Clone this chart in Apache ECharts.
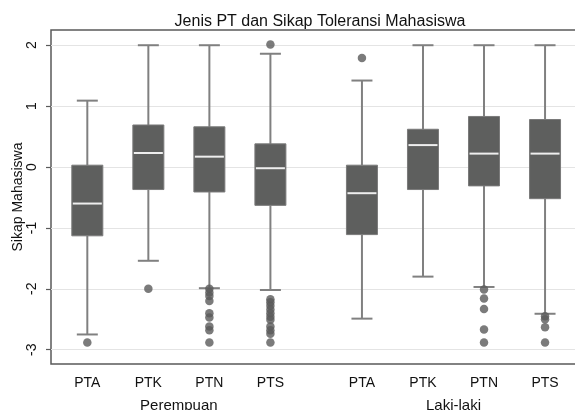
<!DOCTYPE html>
<html>
<head>
<meta charset="utf-8">
<title>Jenis PT dan Sikap Toleransi Mahasiswa</title>
<script src="https://cdn.jsdelivr.net/npm/echarts@6/dist/echarts.min.js"></script>
<style>
  html, body { margin: 0; padding: 0; background: #fff; }
  #chart { width: 575px; height: 410px; }
</style>
</head>
<body>
<div id="chart"></div>
<script>
// Groups and university types
const groups = ['Perempuan', 'Laki-laki'];
const types = ['PTA', 'PTK', 'PTN', 'PTS'];

// Box summaries per type: [lower whisker, Q1, median, Q3, upper whisker]
const perempuanBox = [
  [-2.75, -1.13, -0.60, 0.03, 1.09],
  [-1.54, -0.37, 0.23, 0.69, 2.00],
  [-1.99, -0.41, 0.17, 0.66, 2.00],
  [-2.02, -0.63, -0.02, 0.38, 1.86]
];
const lakiBox = [
  [-2.49, -1.11, -0.43, 0.03, 1.42],
  [-1.80, -0.37, 0.36, 0.62, 2.00],
  [-1.97, -0.31, 0.22, 0.83, 2.00],
  [-2.41, -0.52, 0.22, 0.78, 2.00]
];

// Outside values per type
const perempuanOutliers = [
  [-2.88],
  [-2.00],
  [-2.00, -2.06, -2.12, -2.20, -2.40, -2.47, -2.62, -2.68, -2.88],
  [2.01, -2.17, -2.22, -2.28, -2.34, -2.40, -2.46, -2.51, -2.62, -2.68, -2.74, -2.88]
];
const lakiOutliers = [
  [1.79],
  [],
  [-2.01, -2.16, -2.33, -2.67, -2.88],
  [-2.45, -2.50, -2.63, -2.88]
];

// Y axis ticks
const yTicks = [-3, -2, -1, 0, 1, 2];

const boxesByGroup = [perempuanBox, lakiBox];
const outliersByGroup = [perempuanOutliers, lakiOutliers];

// Position along the x axis: types side by side, half a slot between groups
const groupStep = types.length + 0.5;
const posOf = (g, i) => g * groupStep + i;

const boxData = [];
const outlierData = [];
const catPositions = [];
const catNames = [];
boxesByGroup.forEach((boxes, g) => {
  boxes.forEach((b, i) => {
    boxData.push([posOf(g, i)].concat(b));
    catPositions.push(posOf(g, i));
    catNames.push(types[i]);
    outliersByGroup[g][i].forEach(v => outlierData.push([posOf(g, i), v]));
  });
});
const groupPositions = groups.map((_, g) => posOf(g, (types.length - 1) / 2));

const font = '"Liberation Sans", Arial, Helvetica, sans-serif';
const BOX_W = 31, CAP_W = 21;

function nameAt(positions, names) {
  return v => {
    for (let k = 0; k < positions.length; k++) {
      if (Math.abs(positions[k] - v) < 1e-6) return names[k];
    }
    return '';
  };
}

const chart = echarts.init(document.getElementById('chart'), null, { renderer: 'canvas' });

chart.setOption({
  animation: false,
  backgroundColor: '#ffffff',
  title: {
    text: 'Jenis PT dan Sikap Toleransi Mahasiswa',
    left: 315, top: 9, textAlign: 'center',
    textStyle: { fontFamily: font, fontSize: 16, fontWeight: 'normal', color: '#111' }
  },
  grid: {
    left: 51, top: 30, bottom: 46, right: -3,
    outerBoundsMode: 'none',
    containLabel: false,
    show: true, borderColor: '#5a5a5a', borderWidth: 1.5, backgroundColor: 'transparent'
  },
  xAxis: [
    {
      type: 'value', min: -0.595, max: 8.04, position: 'bottom',
      axisLine: { show: false, onZero: false }, axisTick: { show: false }, splitLine: { show: false },
      axisLabel: {
        customValues: catPositions, formatter: nameAt(catPositions, catNames),
        margin: 12, fontFamily: font, fontSize: 14, color: '#111'
      }
    },
    {
      type: 'value', min: -0.595, max: 8.04, position: 'bottom', offset: 0,
      axisLine: { show: false, onZero: false }, axisTick: { show: false }, splitLine: { show: false },
      axisLabel: {
        customValues: groupPositions, formatter: nameAt(groupPositions, groups),
        margin: 34, fontFamily: font, fontSize: 15, color: '#111'
      }
    }
  ],
  yAxis: {
    type: 'value', min: -3.235, max: 2.25, position: 'left',
    name: 'Sikap Mahasiswa', nameLocation: 'middle', nameGap: 26, nameMoveOverlap: false,
    nameTextStyle: { fontFamily: font, fontSize: 14, color: '#111' },
    axisLine: { show: false, onZero: false },
    axisTick: { show: true, customValues: yTicks, length: 5, lineStyle: { color: '#5a5a5a', width: 1.2 } },
    axisLabel: { customValues: yTicks, rotate: 90, margin: 12, fontFamily: font, fontSize: 14, color: '#111' },
    splitLine: { show: true, lineStyle: { color: '#e4e4e4', width: 1.2 } }
  },
  series: [
    {
      type: 'custom',
      xAxisIndex: 0,
      z: 2,
      encode: { x: 0, y: [1, 2, 3, 4, 5] },
      data: boxData,
      renderItem: function (params, api) {
        const x = api.value(0);
        const pLow = api.coord([x, api.value(1)]);
        const pQ1 = api.coord([x, api.value(2)]);
        const pMed = api.coord([x, api.value(3)]);
        const pQ3 = api.coord([x, api.value(4)]);
        const pHigh = api.coord([x, api.value(5)]);
        const cx = pMed[0];
        const whisker = { stroke: '#808080', lineWidth: 2 };
        return {
          type: 'group',
          children: [
            { type: 'line', shape: { x1: cx, y1: pQ3[1], x2: cx, y2: pHigh[1] }, style: whisker },
            { type: 'line', shape: { x1: cx, y1: pQ1[1], x2: cx, y2: pLow[1] }, style: whisker },
            { type: 'line', shape: { x1: cx - CAP_W / 2, y1: pHigh[1], x2: cx + CAP_W / 2, y2: pHigh[1] }, style: whisker },
            { type: 'line', shape: { x1: cx - CAP_W / 2, y1: pLow[1], x2: cx + CAP_W / 2, y2: pLow[1] }, style: whisker },
            {
              type: 'rect',
              shape: { x: cx - BOX_W / 2, y: pQ3[1], width: BOX_W, height: pQ1[1] - pQ3[1] },
              style: { fill: '#5e5f5e', stroke: '#7a7a7a', lineWidth: 1 }
            },
            {
              type: 'line',
              shape: { x1: cx - BOX_W / 2 + 1, y1: pMed[1], x2: cx + BOX_W / 2 - 1, y2: pMed[1] },
              style: { stroke: '#eeeeee', lineWidth: 2 }
            }
          ]
        };
      }
    },
    {
      type: 'scatter',
      xAxisIndex: 0,
      z: 3,
      symbol: 'circle',
      symbolSize: 8.5,
      itemStyle: { color: '#5a5a5a' },
      data: outlierData
    }
  ]
});
</script>
</body>
</html>
